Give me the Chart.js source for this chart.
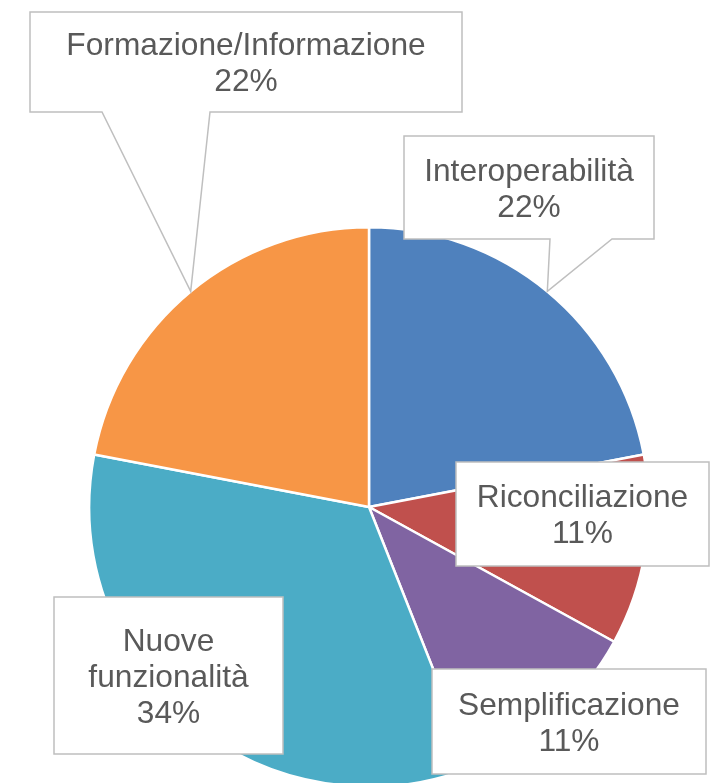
<!DOCTYPE html>
<html>
<head>
<meta charset="utf-8">
<script src="https://cdn.jsdelivr.net/npm/chart.js@4"></script>
<style>
  html, body { margin: 0; padding: 0; background: #ffffff; overflow: hidden; }
  #wrap { width: 717px; height: 783px; overflow: hidden; position: relative; }
  canvas { display: block; }
</style>
</head>
<body>
<div id="wrap"><canvas id="c" width="717" height="790"></canvas></div>
<script>
// ---- data ----
const categories = ["Interoperabilità", "Riconciliazione", "Semplificazione", "Nuove funzionalità", "Formazione/Informazione"];
const values = [22, 11, 11, 34, 22];
const colors = ["#4F81BD", "#C0504D", "#8064A2", "#4BACC6", "#F79646"];
// label text lines (category wrapped as in the reference)
const labelLines = [["Interoperabilità"], ["Riconciliazione"], ["Semplificazione"], ["Nuove", "funzionalità"], ["Formazione/Informazione"]];

// ---- label box layout (offsets from pie centre, px) ----
const boxLayout = [
  { dx: 35,   dy: -371, w: 250, h: 103, pointer: [146, 208] },
  { dx: 87,   dy: -45,  w: 253, h: 104, pointer: null },
  { dx: 63,   dy: 162,  w: 274, h: 105, pointer: null },
  { dx: -315, dy: 90,   w: 229, h: 157, pointer: null },
  { dx: -339, dy: -495, w: 432, h: 100, pointer: [72, 180] }
];

const total = values.reduce((a, b) => a + b, 0);

const calloutPlugin = {
  id: 'callouts',
  afterDatasetsDraw(chart) {
    const ctx = chart.ctx;
    const meta = chart.getDatasetMeta(0);
    const fontSize = 31.7;
    const capH = fontSize * 0.716;
    const lineGap = 36.3;
    meta.data.forEach((arc, i) => {
      const L = boxLayout[i];
      const cx = arc.x, cy = arc.y, R = arc.outerRadius;
      const x0 = cx + L.dx, y0 = cy + L.dy, x1 = x0 + L.w, y1 = y0 + L.h;
      ctx.save();
      ctx.beginPath();
      ctx.moveTo(x0, y0);
      ctx.lineTo(x1, y0);
      ctx.lineTo(x1, y1);
      if (L.pointer) {
        const mid = (arc.startAngle + arc.endAngle) / 2;
        const tx = cx + Math.cos(mid) * R, ty = cy + Math.sin(mid) * R;
        ctx.lineTo(x0 + L.pointer[1], y1);
        ctx.lineTo(tx, ty);
        ctx.lineTo(x0 + L.pointer[0], y1);
      }
      ctx.lineTo(x0, y1);
      ctx.closePath();
      ctx.fillStyle = '#ffffff';
      ctx.fill();
      ctx.lineWidth = 1.5;
      ctx.strokeStyle = '#BFBFBF';
      ctx.stroke();

      const pct = Math.round(values[i] / total * 100) + '%';
      const lines = labelLines[i].concat([pct]);
      const blockH = capH + (lines.length - 1) * lineGap;
      const midY = (y0 + y1) / 2;
      let base = midY - blockH / 2 + capH;
      ctx.fillStyle = '#595959';
      ctx.font = fontSize + 'px "Liberation Sans", Arial, sans-serif';
      ctx.textAlign = 'center';
      ctx.textBaseline = 'alphabetic';
      const mx = (x0 + x1) / 2;
      lines.forEach((t, k) => {
        ctx.fillText(t, mx, base + k * lineGap);
      });
      ctx.restore();
    });
  }
};

new Chart(document.getElementById('c'), {
  type: 'pie',
  data: {
    labels: categories,
    datasets: [{
      data: values,
      backgroundColor: colors,
      borderColor: '#ffffff',
      borderWidth: 2.5
    }]
  },
  options: {
    responsive: false,
    animation: false,
    devicePixelRatio: 1,
    layout: { padding: { left: 88, right: 67, top: 226, bottom: 2 } },
    plugins: {
      legend: { display: false },
      tooltip: { enabled: false }
    }
  },
  plugins: [calloutPlugin]
});
</script>
</body>
</html>
